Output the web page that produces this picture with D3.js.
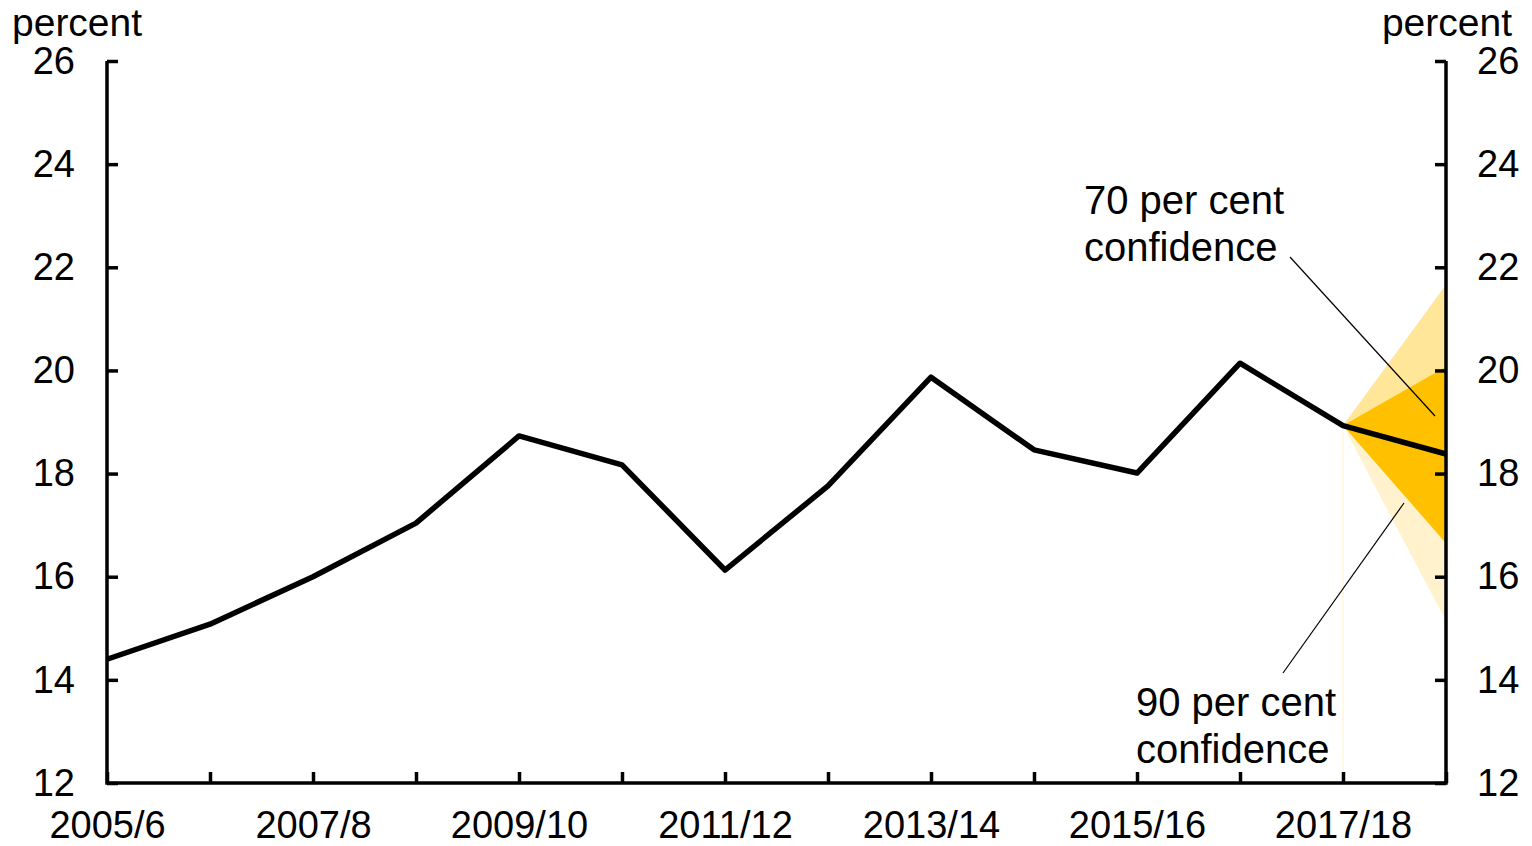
<!DOCTYPE html>
<html>
<head>
<meta charset="utf-8">
<script src="https://cdn.jsdelivr.net/npm/d3@7"></script>
<style>
  body { margin: 0; background: #fff; }
  svg text { font-family: "Liberation Sans", Arial, sans-serif; fill: #000; }
</style>
</head>
<body>
<div id="container"></div>
<script>
// Chart data
var years = ['2005/6','2006/7','2007/8','2008/9','2009/10','2010/11','2011/12',
	'2012/13','2013/14','2014/15','2015/16','2016/17','2017/18','2018/19'];
var values = [14.4, 15.08, 16.0, 17.04, 18.73, 18.17, 16.13, 17.76, 19.87, 18.46, 18.01, 20.14, 18.93, 18.38];
var yTicks = [12, 14, 16, 18, 20, 22, 24, 26];
var xLabels = ['2005/6','2007/8','2009/10','2011/12','2013/14','2015/16','2017/18'];

// fan chart bands: [year, low, high]
var fan90 = [['2017/18', 18.93, 18.93], ['2018/19', 15.14, 21.66]];
var fan70 = [['2017/18', 18.93, 18.93], ['2018/19', 16.65, 20.07]];

function makeChart(){
	var w = 1532, h = 846;
	var left = 107, right = 1446, top = 61, bottom = 783;

	var svg = d3.select('#container')
		.append('svg')
		.attr('width', w)
		.attr('height', h);

	var x = d3.scalePoint()
		.domain(years)
		.range([left, right]);

	var y = d3.scaleLinear()
		.domain([12, 26])
		.range([bottom, top]);

	//90 per cent band, upper half darker than lower half
	var mid = values[values.length - 1];
	svg.append('path')
		.attr('d', d3.area()
			.x(function(d){ return x(d[0]); })
			.y0(function(d){ return y(d[2]); })
			.y1(function(d, i){ return i == 0 ? y(d[2]) : y(mid); })(fan90))
		.attr('fill', '#FFE699');
	svg.append('path')
		.attr('d', d3.area()
			.x(function(d){ return x(d[0]); })
			.y0(function(d){ return y(d[1]); })
			.y1(function(d, i){ return i == 0 ? y(d[1]) : y(mid); })(fan90))
		.attr('fill', '#FFF2CC');

	//70 per cent band
	svg.append('path')
		.attr('d', d3.area()
			.x(function(d){ return x(d[0]); })
			.y0(function(d){ return y(d[1]); })
			.y1(function(d){ return y(d[2]); })(fan70))
		.attr('fill', '#FFC000');

	//thin marker where the projection starts
	svg.append('line')
		.attr('x1', x('2017/18')).attr('x2', x('2017/18'))
		.attr('y1', y(values[12])).attr('y2', bottom)
		.attr('stroke', '#FFF2CC')
		.attr('stroke-width', 1);

	//Axes
	var yLeft = d3.axisLeft(y).tickValues(yTicks).tickSize(-11).tickPadding(32).tickFormat(d3.format('d'));
	var yRight = d3.axisRight(y).tickValues(yTicks).tickSize(-11).tickPadding(31).tickFormat(d3.format('d'));
	var xAxis = d3.axisBottom(x).tickSize(-11).tickPadding(28)
		.tickFormat(function(d){ return xLabels.indexOf(d) >= 0 ? d : ''; });

	function styleAxis(g){
		g.select('.domain').remove();
		g.selectAll('line').attr('stroke', '#000').attr('stroke-width', 3.5);
		g.selectAll('text').attr('font-size', '38px').attr('fill', '#000')
			.style('font-family', '"Liberation Sans", Arial, sans-serif');
	}

	svg.append('g').attr('transform', 'translate(' + left + ',0)').call(yLeft).call(styleAxis);
	svg.append('g').attr('transform', 'translate(' + right + ',0)').call(yRight).call(styleAxis);
	svg.append('g').attr('transform', 'translate(0,' + bottom + ')').call(xAxis).call(styleAxis);

	//Frame lines (left, right, bottom)
	svg.append('path')
		.attr('d', 'M' + left + ',' + top + 'V' + bottom + 'H' + right + 'V' + top)
		.attr('fill', 'none')
		.attr('stroke', '#000')
		.attr('stroke-width', 3.5);

	//Main line
	svg.append('path')
		.datum(values)
		.attr('d', d3.line()
			.x(function(d, i){ return x(years[i]); })
			.y(function(d){ return y(d); }))
		.attr('fill', 'none')
		.attr('stroke', '#000')
		.attr('stroke-width', 5.5)
		.attr('stroke-linejoin', 'round');

	//Axis titles
	svg.append('text').attr('x', 12).attr('y', 36).attr('font-size', '39px').text('percent');
	svg.append('text').attr('x', 1512).attr('y', 36).attr('font-size', '39px')
		.attr('text-anchor', 'end').text('percent');

	//Annotations
	var ann = svg.append('g').attr('font-size', '40px');
	ann.append('text').attr('x', 1084).attr('y', 214).text('70 per cent');
	ann.append('text').attr('x', 1084).attr('y', 261).text('confidence');
	ann.append('text').attr('x', 1136).attr('y', 716).text('90 per cent');
	ann.append('text').attr('x', 1136).attr('y', 763).text('confidence');

	svg.append('line')
		.attr('x1', 1290).attr('y1', 257).attr('x2', 1435).attr('y2', 416)
		.attr('stroke', '#000').attr('stroke-width', 1.2);
	svg.append('line')
		.attr('x1', 1283).attr('y1', 673).attr('x2', 1404).attr('y2', 503)
		.attr('stroke', '#000').attr('stroke-width', 1.2);
}

makeChart();
</script>
</body>
</html>
